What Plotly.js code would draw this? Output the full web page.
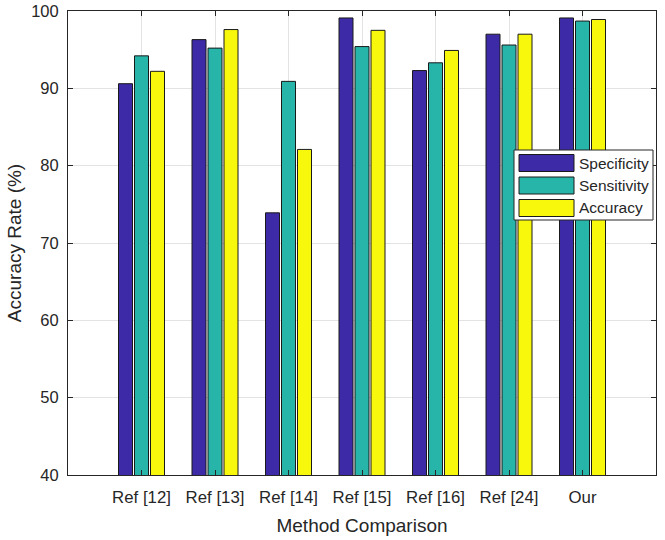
<!DOCTYPE html>
<html>
<head>
<meta charset="utf-8">
<script src="https://cdn.plot.ly/plotly-3.0.1.min.js"></script>
<style>html,body{margin:0;padding:0;background:#fff;}#chart{width:665px;height:540px;}</style>
</head>
<body>
<div id="chart"></div>
<script>
const categories = ['Ref [12]', 'Ref [13]', 'Ref [14]', 'Ref [15]', 'Ref [16]', 'Ref [24]', 'Our'];
const specificity = [90.6, 96.3, 73.9, 99.1, 92.3, 97.0, 99.1];
const sensitivity = [94.2, 95.2, 90.9, 95.4, 93.3, 95.6, 98.7];
const accuracy = [92.2, 97.6, 82.1, 97.5, 94.9, 97.0, 98.9];
const seriesNames = ['Specificity', 'Sensitivity', 'Accuracy'];
const yTickVals = [40, 50, 60, 70, 80, 90, 100];
const xTitle = 'Method Comparison';
const yTitle = 'Accuracy Rate (%)';

const colors = ['#3c2aa6', '#26b5a8', '#f8f80c'];
const seriesValues = [specificity, sensitivity, accuracy];
const font = 'Liberation Sans, Arial, Helvetica, sans-serif';
const textColor = '#262626';

const traces = seriesValues.map((vals, i) => ({
  type: 'bar',
  name: seriesNames[i],
  x: categories,
  y: vals,
  marker: {color: colors[i], line: {color: '#1a1a1a', width: 1}},
  showlegend: false,
  hoverinfo: 'x+y+name'
}));

const W = 665, H = 540;
const M = {l: 68, r: 9, t: 11, b: 65};
const pw = W - M.l - M.r, ph = H - M.t - M.b;
const px = v => (v - M.l) / pw;
const py = v => (H - M.b - v) / ph;

// legend (drawn in paper space)
const shapes = [];
const annotations = [];
const box = {x0: 514, x1: 653, y0: 150, y1: 220};
shapes.push({type: 'rect', xref: 'paper', yref: 'paper', x0: px(box.x0), x1: px(box.x1), y0: py(box.y1), y1: py(box.y0),
  fillcolor: '#ffffff', line: {color: '#262626', width: 1}, layer: 'above'});
const rowCenters = [163, 185.5, 208];
seriesNames.forEach((n, i) => {
  const c = rowCenters[i];
  shapes.push({type: 'rect', xref: 'paper', yref: 'paper', x0: px(519), x1: px(574), y0: py(c + 8.5), y1: py(c - 8.5),
    fillcolor: colors[i], line: {color: '#1a1a1a', width: 1}, layer: 'above'});
  annotations.push({xref: 'paper', yref: 'paper', x: px(577), y: py(c), xanchor: 'left', yanchor: 'middle',
    text: n, showarrow: false, font: {family: font, size: 15.5, color: textColor}});
});

const layout = {
  width: W, height: H,
  margin: M,
  paper_bgcolor: '#ffffff',
  plot_bgcolor: '#ffffff',
  font: {family: font, color: textColor},
  barmode: 'group',
  bargap: 0.347,
  bargroupgap: 0.125,
  showlegend: false,
  xaxis: {
    type: 'category',
    range: [-1, 7],
    showline: true, linecolor: '#262626', linewidth: 1, mirror: 'allticks',
    ticks: 'inside', ticklen: 5, tickcolor: '#262626',
    showgrid: true, gridcolor: '#e3e3e3', gridwidth: 1,
    tickfont: {family: font, size: 16.8, color: textColor},
    ticklabelstandoff: 7,
    title: {text: xTitle, font: {family: font, size: 19, color: textColor}, standoff: 12},
    fixedrange: true
  },
  yaxis: {
    range: [40, 100],
    tickvals: yTickVals,
    showline: true, linecolor: '#262626', linewidth: 1, mirror: 'allticks',
    ticks: 'inside', ticklen: 5, tickcolor: '#262626',
    showgrid: true, gridcolor: '#e3e3e3', gridwidth: 1,
    zeroline: false,
    tickfont: {family: font, size: 16.5, color: textColor},
    ticklabelstandoff: 5,
    title: {text: yTitle, font: {family: font, size: 19, color: textColor}, standoff: 4},
    fixedrange: true
  },
  shapes: shapes,
  annotations: annotations
};

Plotly.newPlot('chart', traces, layout, {displayModeBar: false, staticPlot: true});
</script>
</body>
</html>
